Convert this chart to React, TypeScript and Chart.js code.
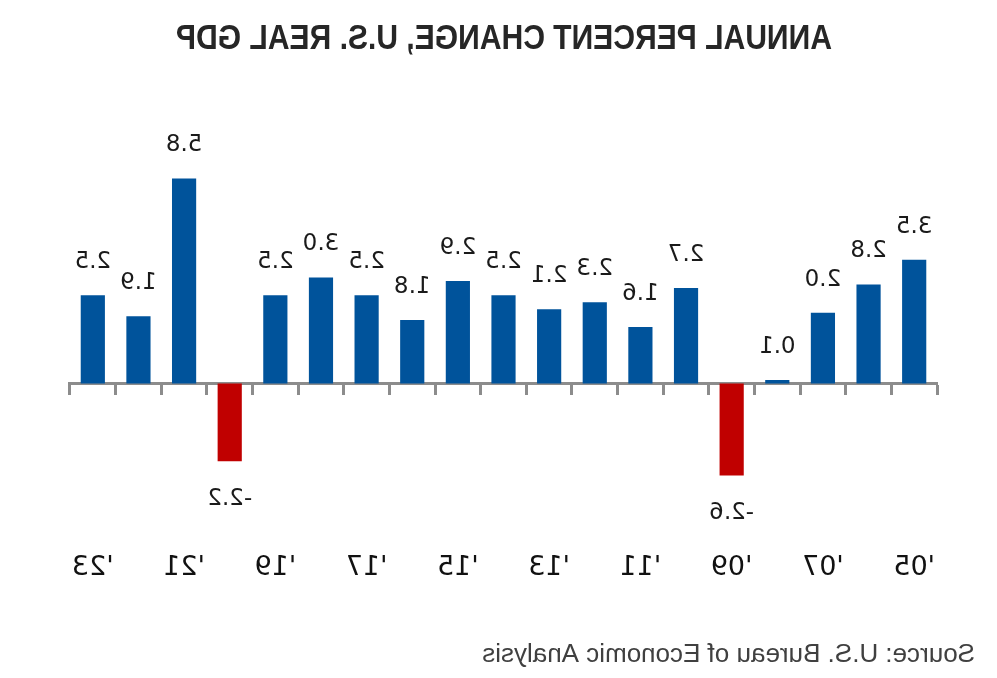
import React, { useEffect, useRef } from "react";
import { Chart, registerables } from "chart.js";

Chart.register(...registerables);

const years = ["'05", "'06", "'07", "'08", "'09", "'10", "'11", "'12", "'13", "'14", "'15", "'16", "'17", "'18", "'19", "'20", "'21", "'22", "'23"];
const gdpChange = [3.5, 2.8, 2.0, 0.1, -2.6, 2.7, 1.6, 2.3, 2.1, 2.5, 2.9, 1.8, 2.5, 3.0, 2.5, -2.2, 5.8, 1.9, 2.5];
const shownTicks = ["'05", "'07", "'09", "'11", "'13", "'15", "'17", "'19", "'21", "'23"];
const titleText = "ANNUAL PERCENT CHANGE, U.S. REAL GDP";
const sourceText = "Source: U.S. Bureau of Economic Analysis";

const BLUE = "#00539b";
const RED = "#c00000";
const AXIS = "#8c8c8c";

const textPlugin = {
  id: "textPlugin",
  afterDraw(chart: any) {
    const ctx = chart.ctx;
    ctx.save();
    // title (narrow bold face emulated by horizontal compression)
    ctx.fillStyle = "#262626";
    ctx.font = "bold 35px 'Liberation Sans', Arial, sans-serif";
    ctx.textAlign = "center";
    ctx.textBaseline = "middle";
    const w = ctx.measureText(titleText).width;
    const sx = 656 / w;
    ctx.save();
    ctx.translate(493, 39);
    ctx.scale(sx, 1);
    ctx.fillText(titleText, 0, 0);
    ctx.restore();
    // source
    ctx.fillStyle = "#404040";
    ctx.font = "26px 'Liberation Sans', Arial, sans-serif";
    ctx.textAlign = "left";
    ctx.fillText(sourceText, 22, 655);
    // data labels
    const meta = chart.getDatasetMeta(0);
    ctx.fillStyle = "#1a1a1a";
    ctx.font = "23px 'DejaVu Sans', sans-serif";
    ctx.textAlign = "center";
    meta.data.forEach((bar: any, i: number) => {
      const v = gdpChange[i];
      const label = v.toFixed(1);
      if (v >= 0) {
        ctx.fillText(label, bar.x, bar.y - 33);
      } else {
        ctx.fillText(label, bar.x, bar.y + 38);
      }
    });
    ctx.restore();
  },
};

export default function App() {
  const ref = useRef<HTMLCanvasElement | null>(null);
  useEffect(() => {
    if (!ref.current) return;
    const chart = new Chart(ref.current, {
      type: "bar",
      data: {
        labels: years,
        datasets: [
          {
            data: gdpChange,
            backgroundColor: gdpChange.map((v) => (v < 0 ? RED : BLUE)),
            barPercentage: 0.53,
            categoryPercentage: 1,
          },
        ],
      },
      options: {
        animation: false,
        responsive: false,
        layout: { padding: { left: 60, right: 70, top: 136, bottom: 153 } },
        plugins: { legend: { display: false }, tooltip: { enabled: false }, title: { display: false } },
        scales: {
          x: {
            position: { y: 0 } as any,
            offset: true,
            afterFit: (s: any) => {
              s.paddingLeft = 0;
              s.paddingRight = 0;
            },
            grid: {
              display: true,
              offset: true,
              drawOnChartArea: false,
              drawTicks: true,
              tickLength: 10,
              lineWidth: 3,
              color: AXIS,
            },
            border: { display: true, color: AXIS, width: 3 },
            ticks: {
              autoSkip: false,
              maxRotation: 0,
              padding: 158,
              color: "#111111",
              font: { family: "'DejaVu Sans', sans-serif", size: 27 },
              callback: (_v: any, i: number) => (shownTicks.includes(years[i]) ? years[i] : ""),
            },
          },
          y: {
            display: false,
            min: -4,
            max: 7,
          },
        },
      },
      plugins: [textPlugin],
    });
    return () => chart.destroy();
  }, []);
  return (
    <div style={{ position: "fixed", left: 0, top: 0, width: 997, height: 678, background: "#ffffff", transform: "scaleX(-1)" }}>
      <canvas ref={ref} width={997} height={678} style={{ display: "block" }} />
    </div>
  );
}
